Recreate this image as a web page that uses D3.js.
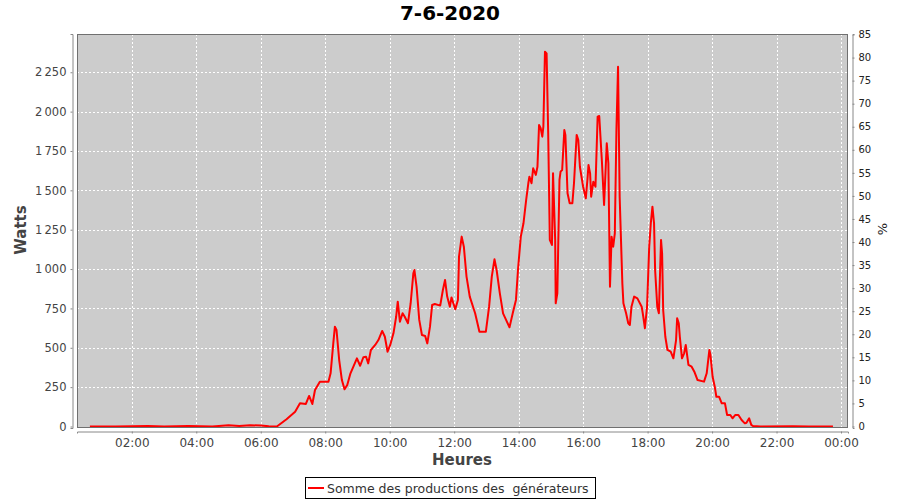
<!DOCTYPE html>
<html><head><meta charset="utf-8">
<script src="https://cdn.jsdelivr.net/npm/d3@7/dist/d3.min.js"></script>
<style>body{margin:0;background:#fff;}svg{display:block;font-family:"DejaVu Sans",sans-serif;}</style>
</head><body><svg id="c" width="900" height="500"></svg>
<script>
const title = "7-6-2020";
const seriesName = "Somme des productions des  générateurs";
const times = ["00:42","01:30","02:30","03:00","03:45","04:30","05:00","05:20","05:40","06:00","06:15","06:30","06:48","07:04","07:13","07:24","07:30","07:36","07:41","07:50","08:06","08:10","08:15","08:18","08:21","08:26","08:31","08:36","08:41","08:47","08:55","08:59","09:05","09:11","09:16","09:20","09:25","09:33","09:39","09:46","09:51","09:56","10:01","10:07","10:12","10:15","10:19","10:24","10:28","10:34","10:39","10:44","10:46","10:50","10:55","11:00","11:06","11:10","11:15","11:19","11:24","11:34","11:39","11:43","11:47","11:52","11:55","12:02","12:07","12:09","12:14","12:18","12:23","12:29","12:39","12:47","12:59","13:05","13:10","13:15","13:19","13:25","13:31","13:43","13:49","13:55","13:59","14:04","14:09","14:14","14:18","14:20","14:24","14:27","14:32","14:35","14:38","14:41","14:44","14:46","14:49","14:52","14:55","14:58","15:02","15:04","15:08","15:09","15:12","15:16","15:18","15:21","15:25","15:27","15:31","15:35","15:40","15:43","15:48","15:51","15:54","16:00","16:05","16:08","16:10","16:13","16:15","16:19","16:23","16:27","16:30","16:35","16:39","16:44","16:47","16:50","16:53","16:56","16:59","17:02","17:05","17:08","17:13","17:15","17:20","17:24","17:27","17:30","17:35","17:41","17:49","17:52","17:55","17:59","18:03","18:06","18:09","18:12","18:14","18:18","18:21","18:25","18:27","18:29","18:33","18:37","18:43","18:48","18:53","18:55","18:58","19:00","19:04","19:08","19:11","19:16","19:22","19:27","19:33","19:45","19:50","19:55","19:57","20:01","20:05","20:08","20:13","20:18","20:24","20:28","20:34","20:38","20:43","20:49","20:55","21:01","21:04","21:09","21:13","21:16","21:30","22:30","23:00","23:45"];
const watts = [0,0,3,0,4,0,8,3,8,6,2,0,46,94,147,143,194,143,232,285,285,338,528,634,613,422,295,236,264,338,401,433,386,440,443,401,486,518,549,607,570,475,518,592,697,793,666,719,697,656,783,973,994,888,677,581,575,528,634,772,778,768,867,931,825,761,820,745,804,1079,1206,1142,952,825,719,602,602,761,952,1062,994,846,719,630,719,804,1005,1206,1291,1439,1545,1587,1545,1640,1598,1650,1915,1894,1841,1904,2381,2370,1862,1185,1153,1608,1185,783,846,1566,1619,1629,1883,1852,1481,1418,1418,1545,1852,1820,1650,1523,1449,1566,1661,1608,1460,1555,1523,1968,1972,1682,1407,1799,1672,888,1206,1142,1227,1883,2285,1460,910,783,719,656,645,761,825,814,761,697,624,761,1142,1291,1396,1291,994,761,719,1185,1100,740,570,486,475,433,549,687,656,570,433,465,518,391,380,348,295,285,338,486,454,316,253,189,189,147,147,73,73,52,73,73,41,20,24,52,10,3,0,2,0,0];
const leftTicks = [0,250,500,750,1000,1250,1500,1750,2000,2250];
const rightTicks = [0,5,10,15,20,25,30,35,40,45,50,55,60,65,70,75,80,85];
const xTickLabels = ["02:00","04:00","06:00","08:00","10:00","12:00","14:00","16:00","18:00","20:00","22:00","00:00"];

const svg = d3.select("#c");
const P = {l:77, r:848, t:34, b:428};
const parse = s => { const [h,m]=s.split(":").map(Number); return new Date(2020,5,7,h,m); };
const x = d3.scaleTime().domain([new Date(2020,5,7,0,18), new Date(2020,5,8,0,13)]).range([P.l,P.r]);
const y = d3.scaleLinear().domain([-9.5,2493]).range([P.b,P.t]);
const y2 = d3.scaleLinear().domain([-0.33,85.11]).range([P.b,P.t]);
const xTicks = xTickLabels.map((s,i)=> new Date(2020,5,7,2*(i+1),0));

svg.append("rect").attr("x",P.l).attr("y",P.t).attr("width",P.r-P.l).attr("height",P.b-P.t).attr("fill","#cccccc");
const g = svg.append("g");
g.selectAll(".hg").data(leftTicks).join("line").attr("x1",P.l).attr("x2",P.r).attr("y1",d=>Math.round(y(d))+0.5).attr("y2",d=>Math.round(y(d))+0.5).attr("stroke","#fff").attr("stroke-width",1).attr("stroke-dasharray","2,2");
g.selectAll(".vg").data(xTicks).join("line").attr("y1",P.t).attr("y2",P.b).attr("x1",d=>Math.round(x(d))+0.5).attr("x2",d=>Math.round(x(d))+0.5).attr("stroke","#fff").attr("stroke-width",1).attr("stroke-dasharray","2,2");

const data = times.map((t,i)=>({t:parse(t),v:watts[i]}));
svg.append("path").datum(data).attr("fill","none").attr("stroke","#ff0000").attr("stroke-width",2).attr("stroke-linejoin","round")
  .attr("d", d3.line().x(d=>x(d.t)).y(d=>y(d.v)));
svg.append("rect").attr("x",P.l+0.5).attr("y",P.t+0.5).attr("width",P.r-P.l-1).attr("height",P.b-P.t-1).attr("fill","none").attr("stroke","#707070");

const axL = svg.append("g").attr("transform",`translate(${P.l-4.5},0)`).call(d3.axisLeft(y).tickValues(leftTicks).tickSize(2).tickPadding(4).tickFormat(d=>d3.format(",")(d).replace(",","\u202f")));
const axR = svg.append("g").attr("transform",`translate(${P.r+4.5},0)`).call(d3.axisRight(y2).tickValues(rightTicks).tickSize(2).tickPadding(4));
const axB = svg.append("g").attr("transform",`translate(0,${P.b+3.5})`).call(d3.axisBottom(x).tickValues(xTicks).tickSize(2).tickPadding(5).tickFormat(d3.timeFormat("%H:%M")));
[axL,axR,axB].forEach(a=>{a.select(".domain").attr("stroke","#888");a.selectAll(".tick line").attr("stroke","#888");a.selectAll("text").attr("fill","#444").attr("font-family","DejaVu Sans").attr("font-size","11.5px");});
axR.selectAll("text").attr("font-size","10px").attr("fill","#222");
axB.selectAll("text").attr("font-size","12px");

svg.append("text").attr("x",450).attr("y",20).attr("text-anchor","middle").attr("font-weight","bold").attr("font-size","20px").attr("fill","#000").text(title);
svg.append("text").attr("transform","translate(26,230) rotate(-90)").attr("text-anchor","middle").attr("font-weight","bold").attr("font-size","15px").attr("fill","#444").text("Watts");
svg.append("text").attr("x",462).attr("y",465).attr("text-anchor","middle").attr("font-weight","bold").attr("font-size","15px").attr("fill","#444").text("Heures");
svg.append("text").attr("transform","translate(887,229) rotate(-90)").attr("text-anchor","middle").attr("font-size","13px").attr("fill","#222").text("%");

const lg = svg.append("g");
lg.append("rect").attr("x",305.5).attr("y",477.5).attr("width",290).attr("height",21).attr("fill","#fff").attr("stroke","#000");
lg.append("line").attr("x1",308).attr("x2",324).attr("y1",488).attr("y2",488).attr("stroke","#ff0000").attr("stroke-width",2);
lg.append("text").attr("x",327).attr("y",492.5).attr("font-size","12.5px").attr("fill","#333").style("white-space","pre").text(seriesName);
</script></body></html>
